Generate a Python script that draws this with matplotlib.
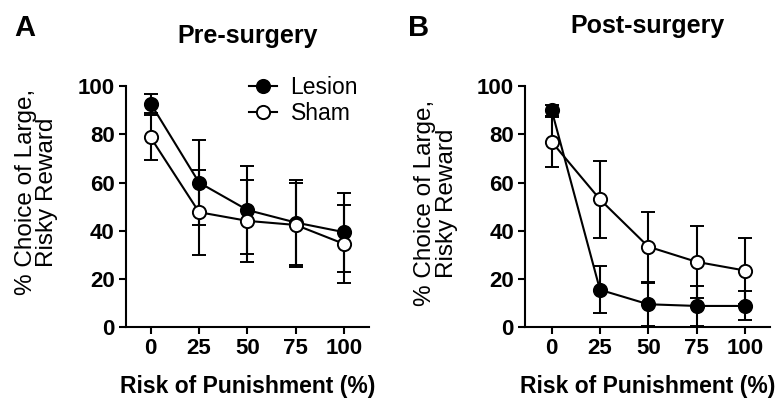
import matplotlib

matplotlib.use("Agg")
import matplotlib.pyplot as plt
from matplotlib.lines import Line2D

plt.rcParams["font.family"] = ["Liberation Sans", "DejaVu Sans"]

# Data (mean +/- SEM, % choice of large risky reward)
risk = [0, 25, 50, 75, 100]

pre_lesion = [92.8, 60.0, 48.6, 43.4, 39.4]
pre_lesion_err = [4.0, 17.6, 18.3, 17.5, 16.4]
pre_sham = [78.7, 47.7, 44.1, 42.4, 34.5]
pre_sham_err = [9.5, 17.7, 17.0, 17.4, 16.2]

post_lesion = [90.0, 15.5, 9.5, 8.8, 8.8]
post_lesion_err = [2.2, 9.7, 9.0, 8.4, 6.0]
post_sham = [76.9, 53.0, 33.4, 27.1, 23.5]
post_sham_err = [10.4, 16.0, 14.5, 14.8, 13.7]

yticks = [0, 20, 40, 60, 80, 100]

LW = 1.5
MS = 9.5


def draw(ax, lesion, lesion_err, sham, sham_err, xlim, ylab_xy):
    common = dict(color="black", lw=LW, elinewidth=LW, capsize=4.8,
                  capthick=LW, markersize=MS, markeredgewidth=1.4,
                  clip_on=False)
    ax.errorbar(risk, lesion, yerr=lesion_err, marker="o",
                markerfacecolor="black", markeredgecolor="black",
                zorder=3, **common)
    ax.errorbar(risk, sham, yerr=sham_err, marker="o",
                markerfacecolor="white", markeredgecolor="black",
                zorder=4, **common)
    ax.set_xlim(*xlim)
    ax.set_ylim(0, 100)
    ax.set_xticks(risk)
    ax.set_yticks(yticks)
    for s in ("top", "right"):
        ax.spines[s].set_visible(False)
    for s in ("left", "bottom"):
        ax.spines[s].set_linewidth(LW)
    ax.tick_params(width=LW, length=5, labelsize=16, pad=3)
    for lab in ax.get_xticklabels() + ax.get_yticklabels():
        lab.set_fontweight("bold")
    ax.set_xlabel("Risk of Punishment (%)", fontsize=16.5, fontweight="bold",
                  labelpad=11)
    ax.set_ylabel("% Choice of Large,\nRisky Reward", fontsize=17.5,
                  linespacing=0.95)
    ax.yaxis.set_label_coords(*ylab_xy)


fig = plt.figure(figsize=(7.77, 3.98), dpi=100)
axA = fig.add_axes([0.162, 0.178, 0.313, 0.6055])
axB = fig.add_axes([0.6757, 0.178, 0.3153, 0.6055])

draw(axA, pre_lesion, pre_lesion_err, pre_sham, pre_sham_err,
     (-12.8, 112.8), (-0.28, 0.56))
draw(axB, post_lesion, post_lesion_err, post_sham, post_sham_err,
     (-13.8, 113), (-0.275, 0.515))

axA.set_title("Pre-surgery", fontsize=18, fontweight="bold", pad=31)
axB.set_title("Post-surgery", fontsize=18, fontweight="bold", pad=38)

fig.text(0.018, 0.93, "A", fontsize=21, fontweight="bold", va="center")
fig.text(0.525, 0.93, "B", fontsize=21, fontweight="bold", va="center")

handles = [
    Line2D([], [], color="black", lw=LW, marker="o", markersize=MS,
           markerfacecolor="black", markeredgewidth=1.4),
    Line2D([], [], color="black", lw=LW, marker="o", markersize=MS,
           markerfacecolor="white", markeredgewidth=1.4),
]
axA.legend(handles, ["Lesion", "Sham"], loc="upper left",
           bbox_to_anchor=(0.47, 1.08), frameon=False, fontsize=16.5,
           handlelength=1.2, handletextpad=0.6, labelspacing=0.15,
           borderaxespad=0)

fig.savefig("out.png", dpi=100)
